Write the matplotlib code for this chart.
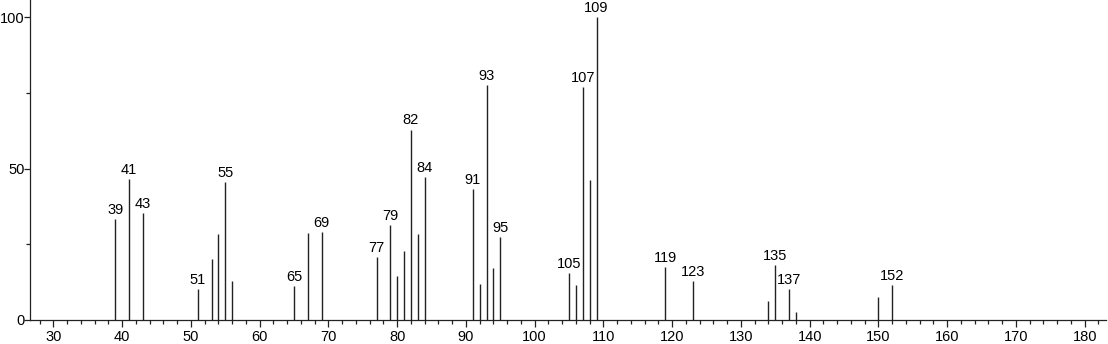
import matplotlib.pyplot as plt
from matplotlib.ticker import MultipleLocator

plt.rcParams['font.family'] = ['Liberation Sans', 'DejaVu Sans']

mz = [39, 41, 43, 51, 53, 54, 55, 56, 65, 67, 69, 77, 79, 80, 81, 82, 83, 84,
      91, 92, 93, 94, 95, 105, 106, 107, 108, 109, 119, 123, 134, 135, 137,
      138, 150, 152]
intensidad = [33.4, 46.6, 35.2, 10.1, 20.2, 28.4, 45.7, 12.9, 11.3, 28.6, 29.0,
              20.9, 31.3, 14.5, 22.8, 62.9, 28.4, 47.2, 43.2, 11.8, 77.6, 17.3,
              27.3, 15.4, 11.5, 76.9, 46.2, 100.0, 17.6, 12.8, 6.2, 18.2, 10.1,
              2.6, 7.7, 11.6]

# picos con etiqueta
etiquetados = [39, 41, 43, 51, 55, 65, 69, 77, 79, 82, 84, 91, 93, 95, 105,
               107, 109, 119, 123, 135, 137, 152]

fig = plt.figure(figsize=(11.08, 3.44), dpi=100)
ax = fig.add_axes([0.0271, 0.0698, 0.9711, 0.9302])

ax.vlines(mz, 0, intensidad, color='#222222', linewidth=1.0)

for x, y in zip(mz, intensidad):
    if x in etiquetados:
        ax.annotate(str(x), (x, y), xytext=(0, 1.5), textcoords='offset points',
                    ha='center', va='bottom', fontsize=10.5)

ax.set_xlim(26.6, 183.1)
ax.set_ylim(0, 105.7)

ax.xaxis.set_major_locator(MultipleLocator(10))
ax.xaxis.set_minor_locator(MultipleLocator(2))
ax.yaxis.set_major_locator(MultipleLocator(50))
ax.yaxis.set_minor_locator(MultipleLocator(25))

ax.spines['top'].set_visible(False)
ax.spines['right'].set_visible(False)
for s in ['left', 'bottom']:
    ax.spines[s].set_linewidth(0.9)
    ax.spines[s].set_color('#222222')

ax.tick_params(axis='x', which='major', length=5, width=0.9, labelsize=10.5,
               color='#222222', pad=2)
ax.tick_params(axis='y', which='major', length=4, width=0.9, labelsize=10.5,
               color='#222222', pad=0)
ax.tick_params(axis='both', which='minor', length=3, width=0.9, color='#222222')

fig.savefig('out.png', dpi=100)
